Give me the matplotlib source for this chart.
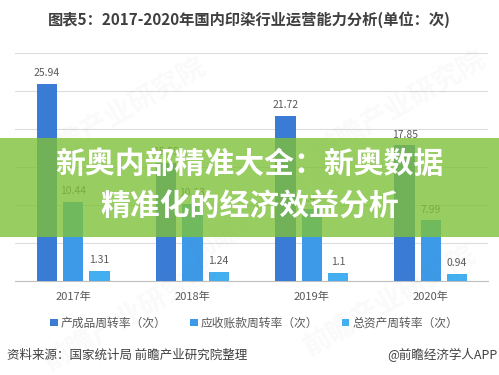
import numpy as np
import matplotlib.pyplot as plt
from matplotlib.patches import Rectangle

plt.rcParams['font.family'] = ['Noto Sans CJK SC', 'DejaVu Sans']

# data
years = ["2017年", "2018年", "2019年", "2020年"]
finished_goods = [25.94, 15.55, 21.72, 17.85]
receivables = [10.44, 10.13, 9.45, 7.99]
total_assets = [1.31, 1.24, 1.1, 0.94]
series_names = ["产成品周转率（次）", "应收账款周转率（次）", "总资产周转率（次）"]
colors = ['#3a7bd6', '#3d9ae8', '#43aef0']

title = "图表5：2017-2020年国内印染行业运营能力分析(单位：次)"
banner_lines = ["新奥内部精准大全：新奥数据", "精准化的经济效益分析"]
source_txt = "资料来源：国家统计局 前瞻产业研究院整理"
brand_txt = "@前瞻经济学人APP"

fig = plt.figure(figsize=(4.99, 3.75), dpi=100)
ax = fig.add_axes([0.030, 0.2507, 0.948, 0.608])

X = np.arange(len(years))
w = 0.17
step = 0.22
for i, (vals, name) in enumerate(zip([finished_goods, receivables, total_assets], series_names)):
    bars = ax.bar(X + (i - 1) * step, vals, width=w, color=colors[i], label=name, zorder=3)
    for rect, v in zip(bars, vals):
        ax.annotate('%g' % v, (rect.get_x() + rect.get_width() / 2, rect.get_height()),
                    xytext=(0, 4), textcoords='offset points', ha='center', va='bottom',
                    fontsize=7.5, color='#595959', zorder=4)

ax.set_ylim(0, 30)
ax.set_xlim(-0.49, 3.48)
ax.set_yticks(np.arange(0, 31, 5))
ax.set_yticklabels([])
ax.tick_params(axis='y', length=0)
ax.grid(axis='y', color='#dcdcdc', linewidth=0.8, zorder=0)
ax.set_xticks(X)
ax.set_xticklabels(years, fontsize=8, color='#595959')
ax.tick_params(axis='x', length=0, pad=8)
for s in ['top', 'right', 'left']:
    ax.spines[s].set_visible(False)
ax.spines['bottom'].set_color('#bfbfbf')

fig.legend(loc='center', bbox_to_anchor=(0.51, 1 - 323 / 375), ncol=3, frameon=False,
           fontsize=8.5, handlelength=0.6, handleheight=0.6, handletextpad=0.3,
           columnspacing=2.0, labelcolor='#595959')

fig.text(0.5, 1 - 20 / 375, title, ha='center', va='center', fontsize=11,
         fontweight='bold', color='#3f3f3f')
fig.text(7 / 499, 1 - 355 / 375, source_txt, ha='left', va='center', fontsize=9, color='#404040')
fig.text(497 / 499, 1 - 355 / 375, brand_txt, ha='right', va='center', fontsize=9, color='#404040')

# faint watermark
for (wx, wy) in [(0.24, 0.70), (0.80, 0.72), (0.26, 0.16), (0.78, 0.20), (0.55, 0.45)]:
    fig.text(wx, wy, "前瞻产业研究院", rotation=30, ha='center', va='center', fontsize=20,
             color='#808080', alpha=0.045, fontweight='bold')

# green banner overlay
fig.add_artist(Rectangle((0, 1 - 237 / 375), 1, 99 / 375, transform=fig.transFigure,
                         facecolor='#7fc13a', alpha=0.8, edgecolor='none', zorder=10))
fig.text(0.5, 1 - 164 / 375, banner_lines[0], ha='center', va='center', fontsize=21.5,
         fontweight='heavy', color='white', zorder=11)
fig.text(0.5, 1 - 207 / 375, banner_lines[1], ha='center', va='center', fontsize=21.5,
         fontweight='heavy', color='white', zorder=11)

fig.savefig('out.png', dpi=100)
